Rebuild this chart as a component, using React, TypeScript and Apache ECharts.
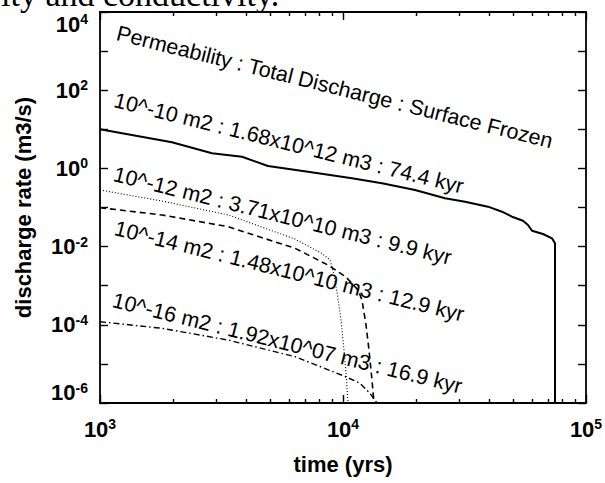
import React, { useEffect, useRef } from 'react';
import * as echarts from 'echarts';

// ---- data ----
const xMajorTicks = [1000, 10000, 100000];
const xMinorTicks = [2000, 3000, 4000, 5000, 6000, 7000, 8000, 9000, 20000, 30000, 40000, 50000, 60000, 70000, 80000, 90000];
const yTicks = [1e-6, 1e-5, 1e-4, 1e-3, 1e-2, 1e-1, 1, 10, 100, 1000, 10000];
const yLabelTicks = [1e-6, 1e-4, 1e-2, 1, 100, 10000];

// 10^-10 m2 (solid)
const k10Time = [1000, 1977, 2890, 3840, 4913, 7178, 10890, 14470, 19790, 26290, 31780, 39520, 45110, 49600, 55050, 57710, 59950, 66530, 72450, 74560, 74560];
const k10Rate = [10, 4.65, 2.43, 1.99, 1.15, 0.824, 0.558, 0.416, 0.281, 0.172, 0.141, 0.105, 0.0781, 0.0582, 0.0459, 0.0356, 0.0255, 0.021, 0.0163, 0.0121, 1e-6];
// 10^-12 m2 (dotted)
const k12Time = [1000, 1795, 3373, 6345, 8170, 8842, 9183, 9493, 9813, 10095, 10337, 10486];
const k12Rate = [0.28, 0.147, 0.0643, 0.0156, 0.00674, 0.00454, 0.00188, 5.78e-4, 1.33e-4, 2.26e-5, 3.87e-6, 1e-6];
// 10^-14 m2 (dashed)
const k14Time = [1000, 1799, 3364, 6346, 8670, 10287, 11527, 11970, 12436, 12794, 13161, 13414];
const k14Rate = [0.0989, 0.0643, 0.0323, 0.00906, 0.00338, 0.00167, 7.76e-4, 4.31e-4, 9.88e-5, 2.26e-5, 3.87e-6, 1e-6];
// 10^-16 m2 (dash-dot)
const k16Time = [1000, 1799, 3364, 6346, 10090, 11750, 12910, 13800];
const k16Rate = [1.2e-4, 8.13e-5, 4.08e-5, 1.53e-5, 4.91e-6, 3.19e-6, 1.77e-6, 1e-6];

const annotationTexts = [
  'Permeability : Total Discharge : Surface Frozen',
  '10^-10 m2 : 1.68x10^12 m3 : 74.4 kyr',
  '10^-12 m2 : 3.71x10^10 m3 : 9.9 kyr',
  '10^-14 m2 : 1.48x10^10 m3 : 12.9 kyr',
  '10^-16 m2 : 1.92x10^07 m3 : 16.9 kyr',
];
const headerText = 'ity and conductivity.';
const xTitle = 'time (yrs)';
const yTitle = 'discharge rate (m3/s)';

const FONT = '"Liberation Sans", Arial, Helvetica, sans-serif';
const SERIF = '"Liberation Serif", "Times New Roman", serif';

const annotationPos = [
  [117, 33],
  [114.5, 100],
  [114, 174],
  [115, 228],
  [113, 300],
];

const pair = (t: number[], v: number[]) => t.map((x, i) => [x, v[i]]);

const baseTok = { fontSize: 22, fontWeight: 'bold', fontFamily: FONT, color: '#000', lineHeight: 24 };
const supTok = { fontSize: 14, fontWeight: 'bold', fontFamily: FONT, color: '#000', lineHeight: 13, verticalAlign: 'top' };
const rich = {
  b: baseTok,
  s: supTok,
  gt: { fontSize: 10, lineHeight: 24, fontFamily: FONT },
  gb: { fontSize: 10, lineHeight: 21, fontFamily: FONT },
};

const expOf = (v: number) => Math.round(Math.log10(v));
const xFmt = (v: number) => `{b|10}{s|${expOf(v)}}`;
const yFmt = (v: number) => {
  const e = expOf(v);
  if (e >= 4) return `{gt| }\n{b|10}{s|${e}}`;
  if (e <= -6) return `{b|10}{s|${e}}\n{gb| }`;
  return `{b|10}{s|${e}}`;
};

const black = '#000';
const frame = { show: true, lineStyle: { color: black, width: 1.8 } };
const tickStyle = { color: black, width: 1.4 };
const labelBase = { fontSize: 22, fontWeight: 'bold', fontFamily: FONT, color: black, rich };

export default function App() {
  const ref = useRef<HTMLDivElement>(null);
  useEffect(() => {
    if (!ref.current) return;
    const chart = echarts.init(ref.current, null, { renderer: 'svg' });
    const xBase = { type: 'log', logBase: 10, min: 1000, max: 100000, splitLine: { show: false } };
    const yBase = { type: 'log', logBase: 10, min: 1e-6, max: 1e4, splitLine: { show: false } };
    const series = [
      { data: pair(k10Time, k10Rate), lineStyle: { color: black, width: 2, type: 'solid' } },
      { data: pair(k12Time, k12Rate), lineStyle: { color: black, width: 1.1, type: [1, 2] } },
      { data: pair(k14Time, k14Rate), lineStyle: { color: black, width: 1.6, type: [6, 4] } },
      { data: pair(k16Time, k16Rate), lineStyle: { color: black, width: 1.4, type: [6, 3, 1.5, 3] } },
    ].map((s) => ({ type: 'line', showSymbol: false, symbol: 'none', xAxisIndex: 0, yAxisIndex: 0, ...s }));

    const angle = (-14 * Math.PI) / 180;
    const graphics: any[] = annotationTexts.map((t, i) => ({
      type: 'text',
      x: annotationPos[i][0],
      y: annotationPos[i][1],
      rotation: angle,
      style: { text: t, fontSize: 21.5, fontFamily: FONT, fill: black, align: 'left', verticalAlign: 'middle' },
    }));
    graphics.push({
      type: 'text',
      x: 1,
      y: -6,
      style: { text: headerText, fontSize: 34, fontFamily: SERIF, fill: black, align: 'left', verticalAlign: 'middle' },
    });

    chart.setOption({
      animation: false,
      backgroundColor: '#fff',
      grid: { left: 100, right: 19, top: 12, bottom: 80, containLabel: false, outerBoundsMode: 'none' },
      xAxis: [
        {
          ...xBase,
          position: 'bottom',
          axisLine: frame,
          axisTick: { show: true, inside: true, length: 8, customValues: xMajorTicks, lineStyle: tickStyle },
          axisLabel: { ...labelBase, show: true, customValues: xMajorTicks, margin: 14, formatter: xFmt },
          name: xTitle,
          nameLocation: 'middle',
          nameGap: 50,
          nameTextStyle: { fontSize: 22, fontWeight: 'bold', fontFamily: FONT, color: black },
        },
        {
          ...xBase,
          position: 'bottom',
          axisLine: { show: false },
          axisTick: { show: true, inside: true, length: 4, customValues: xMinorTicks, lineStyle: tickStyle },
          axisLabel: { show: false },
        },
        {
          ...xBase,
          position: 'top',
          axisLine: frame,
          axisTick: { show: true, inside: true, length: 8, customValues: xMajorTicks, lineStyle: tickStyle },
          axisLabel: { show: false },
        },
        {
          ...xBase,
          position: 'top',
          axisLine: { show: false },
          axisTick: { show: true, inside: true, length: 4, customValues: xMinorTicks, lineStyle: tickStyle },
          axisLabel: { show: false },
        },
      ],
      yAxis: [
        {
          ...yBase,
          position: 'left',
          axisLine: frame,
          axisTick: { show: true, inside: true, length: 8, customValues: yTicks, lineStyle: tickStyle },
          axisLabel: { ...labelBase, show: true, customValues: yLabelTicks, margin: 12, formatter: yFmt },
          name: yTitle,
          nameLocation: 'middle',
          nameGap: 66,
          nameTextStyle: { fontSize: 22, fontWeight: 'bold', fontFamily: FONT, color: black },
        },
        {
          ...yBase,
          position: 'right',
          axisLine: frame,
          axisTick: { show: true, inside: true, length: 8, customValues: yTicks, lineStyle: tickStyle },
          axisLabel: { show: false },
        },
      ],
      series,
      graphic: graphics,
    });
    return () => chart.dispose();
  }, []);
  return <div ref={ref} style={{ position: 'absolute', left: 0, top: 0, width: 605, height: 483 }} />;
}
